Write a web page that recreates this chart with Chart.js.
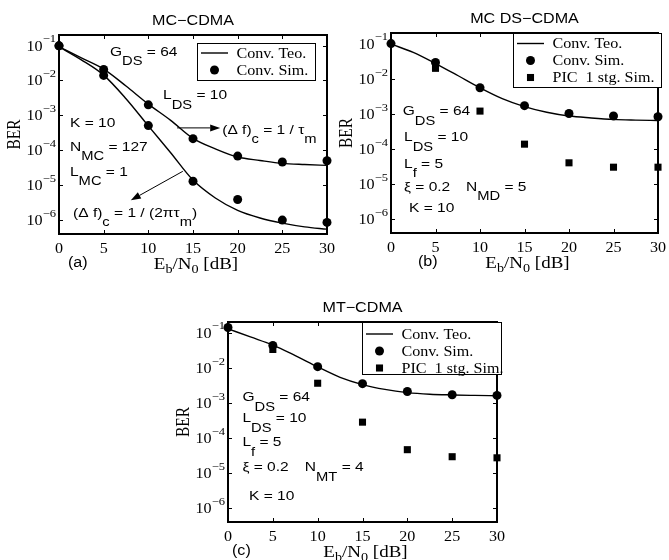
<!DOCTYPE html>
<html>
<head>
<meta charset="utf-8">
<title>BER vs Eb/N0</title>
<script src="https://cdn.jsdelivr.net/npm/chart.js@4.4.1/dist/chart.umd.min.js"></script>
<style>
  html, body { margin: 0; padding: 0; background: #fff; }
  #page { position: relative; width: 669px; height: 560px; }
  #page canvas { position: absolute; left: 0; top: 0; }
</style>
</head>
<body>
<div id="page">
  <canvas id="chartA" width="669" height="560"></canvas>
  <canvas id="chartB" width="669" height="560"></canvas>
  <canvas id="chartC" width="669" height="560"></canvas>
</div>
<script>
// Eb/N0 points of the simulations and of the analytic curves
const ebn0Sim = [0, 5, 10, 15, 20, 25, 30];
const ebn0Teo = [0, 2.5, 5, 7.5, 10, 12.5, 15, 17.5, 20, 22.5, 25, 27.5, 30];

const xTicks = [0, 5, 10, 15, 20, 25, 30];
const xTickLabels = ['0', '5', '10', '15', '20', '25', '30'];
const yTicks = [1e-6, 1e-5, 1e-4, 1e-3, 1e-2, 1e-1];
const yTickLabels = ['10^{\u22126}', '10^{\u22125}', '10^{\u22124}', '10^{\u22123}', '10^{\u22122}', '10^{\u22121}'];

// (a) MC-CDMA, (delta f)c = 1/tau_m and 1/(2 pi tau_m)
const teoMcWide = [0.092, 0.044, 0.021, 0.0069, 0.0021, 0.00072, 0.00022, 0.00011, 0.000064, 0.000051, 0.000042, 0.000039, 0.000037];
const simMcWide = [0.098, 0.0206, 0.002, 0.000215, 0.000068, 0.000046, 0.00005];
const teoMcNarrow = [0.092, 0.039, 0.0142, 0.003, 0.0005, 0.000085, 0.000014, 0.0000043, 0.0000019, 0.00000115, 0.00000082, 0.00000064, 0.00000055];
const simMcNarrow = [0.098, 0.0139, 0.00051, 0.000013, 0.0000039, 0.000001, 0.00000086];

// (b) MC DS-CDMA
const teoMd = [0.097, 0.056, 0.027, 0.0123, 0.0055, 0.0027, 0.0016, 0.0011, 0.00086, 0.00076, 0.00069, 0.00066, 0.00064];
const simMd = [0.1, 0.029, 0.0055, 0.0017, 0.00102, 0.00086, 0.00082];
const picMd = [null, 0.0197, 0.00119, 0.000136, 0.00004, 0.00003, 0.00003];

// (c) MT-CDMA
const teoMt = [0.128, 0.075, 0.044, 0.022, 0.0105, 0.0053, 0.0033, 0.0024, 0.00195, 0.00175, 0.00167, 0.00162, 0.00158];
const simMt = [0.139, 0.043, 0.0107, 0.0035, 0.0021, 0.00169, 0.00162];
const picMt = [null, 0.033, 0.0036, 0.00028, 0.000046, 0.000029, 0.000027];

const STRETCH = 1.15;
const SANS = '"Liberation Sans", Arial, Helvetica, sans-serif';
const SERIF = '"Liberation Serif", "Times New Roman", Times, serif';

function series(xs, ys) {
  return xs.map((x, i) => ({ x: x, y: ys[i] }));
}

function teoLine(label, ys) {
  return {
    label: label,
    data: series(ebn0Teo, ys),
    showLine: true,
    borderColor: '#000',
    borderWidth: 1.4,
    pointRadius: 0,
    fill: false,
    cubicInterpolationMode: 'monotone'
  };
}

function simPoints(label, ys, style) {
  return {
    label: label,
    data: series(ebn0Sim, ys),
    showLine: false,
    pointStyle: style,
    pointRadius: style === 'rect' ? 5 : 4.5,
    backgroundColor: '#000',
    borderColor: '#000',
    borderWidth: 0,
    clip: false
  };
}

// text with _{sub} and ^{sup} parts, stretched a bit sideways like the scan
function richText(ctx, str, x, y, size, family, align, opt) {
  opt = opt || {};
  const subScale = opt.subScale || 0.95, subShift = opt.subShift || 0.7;
  const supScale = opt.supScale || 0.78, supShift = opt.supShift || 0.58;
  const parts = [];
  const re = /_\{([^}]*)\}|\^\{([^}]*)\}|([^_^]+)/g;
  let m;
  while ((m = re.exec(str))) {
    if (m[1] !== undefined) parts.push({ t: m[1], s: size * subScale, dy: size * subShift });
    else if (m[2] !== undefined) parts.push({ t: m[2], s: size * supScale, dy: -size * supShift });
    else parts.push({ t: m[3], s: size, dy: 0 });
  }
  let w = 0;
  parts.forEach(p => {
    ctx.font = p.s + 'px ' + family;
    p.w = ctx.measureText(p.t).width;
    w += p.w;
  });
  let cx = align === 'center' ? -w / 2 : align === 'right' ? -w : 0;
  ctx.save();
  ctx.translate(x, y);
  ctx.scale(STRETCH, 1);
  ctx.textAlign = 'left';
  ctx.textBaseline = 'alphabetic';
  ctx.fillStyle = '#000';
  parts.forEach(p => {
    ctx.font = p.s + 'px ' + family;
    ctx.fillText(p.t, cx, p.dy);
    cx += p.w;
  });
  ctx.restore();
}

function drawArrow(ctx, x0, y0, x1, y1) {
  const ang = Math.atan2(y1 - y0, x1 - x0);
  const len = 10, half = 3.5;
  ctx.beginPath();
  ctx.moveTo(x0, y0);
  ctx.lineTo(x1 - Math.cos(ang) * len, y1 - Math.sin(ang) * len);
  ctx.stroke();
  ctx.beginPath();
  ctx.moveTo(x1, y1);
  ctx.lineTo(x1 - Math.cos(ang) * len - Math.sin(ang) * half, y1 - Math.sin(ang) * len + Math.cos(ang) * half);
  ctx.lineTo(x1 - Math.cos(ang) * len + Math.sin(ang) * half, y1 - Math.sin(ang) * len - Math.cos(ang) * half);
  ctx.closePath();
  ctx.fill();
}

function figurePlugin(fig) {
  return {
    id: 'figure',
    beforeDatasetsDraw(chart) {
      const ctx = chart.ctx, a = chart.chartArea;
      const xs = chart.scales.x, ys = chart.scales.y;
      ctx.save();
      ctx.strokeStyle = '#000';
      ctx.lineWidth = 1;
      ctx.beginPath();
      xs.ticks.forEach(t => {
        const px = Math.round(xs.getPixelForValue(t.value)) + 0.5;
        ctx.moveTo(px, a.bottom); ctx.lineTo(px, a.bottom - 4);
        ctx.moveTo(px, a.top); ctx.lineTo(px, a.top + 4);
      });
      ys.ticks.forEach(t => {
        const py = Math.round(ys.getPixelForValue(t.value)) + 0.5;
        ctx.moveTo(a.left, py); ctx.lineTo(a.left + 4, py);
        ctx.moveTo(a.right, py); ctx.lineTo(a.right - 4, py);
      });
      ctx.stroke();
      ctx.lineWidth = 2;
      ctx.strokeRect(a.left, a.top, a.right - a.left, a.bottom - a.top);
      ctx.restore();
    },
    afterDatasetsDraw(chart) {
      const ctx = chart.ctx, a = chart.chartArea;
      const xs = chart.scales.x, ys = chart.scales.y;
      const cx = (a.left + a.right) / 2;
      ctx.save();
      ctx.fillStyle = '#000';
      ctx.strokeStyle = '#000';

      // tick labels
      xTicks.forEach((v, i) => {
        richText(ctx, xTickLabels[i], xs.getPixelForValue(v), a.bottom + 19, 14, SERIF, 'center');
      });
      yTicks.forEach((v, i) => {
        richText(ctx, yTickLabels[i], a.left - 3, ys.getPixelForValue(v) + 5, 14, SERIF, 'right');
      });

      // titles and labels
      richText(ctx, fig.title, cx, a.top - 10, 14, SANS, 'center');
      richText(ctx, 'E_{b}/N_{0} [dB]', cx + 3, a.bottom + 34.5, 16.5, SERIF, 'center', { subScale: 0.75, subShift: 0.3 });
      richText(ctx, fig.tag.text, a.left + fig.tag.dx, a.bottom + 32.5, 14, SANS, 'left');
      ctx.save();
      ctx.translate(a.left - 44, (a.top + a.bottom) / 2);
      ctx.rotate(-Math.PI / 2);
      ctx.scale(1, STRETCH);
      ctx.font = '15.5px ' + SERIF;
      ctx.textAlign = 'center';
      ctx.textBaseline = 'middle';
      ctx.fillText('BER', 0, 0);
      ctx.restore();

      // notes placed in data coordinates
      fig.notes.forEach(n => {
        richText(ctx, n.text, xs.getPixelForValue(n.x), ys.getPixelForValue(n.y), 13.5, SANS, 'left');
      });
      ctx.lineWidth = 1;
      fig.arrows.forEach(r => {
        drawArrow(ctx, xs.getPixelForValue(r.x0), ys.getPixelForValue(r.y0),
          xs.getPixelForValue(r.x1), ys.getPixelForValue(r.y1));
      });

      // legend box
      const lg = fig.legend;
      const bx = Math.round(a.left + lg.x), by = Math.round(a.top + lg.y);
      ctx.fillStyle = '#fff';
      ctx.fillRect(bx, by, lg.w, lg.h);
      ctx.strokeStyle = '#000';
      ctx.lineWidth = 1;
      ctx.strokeRect(bx + 0.5, by + 0.5, lg.w, lg.h);
      ctx.fillStyle = '#000';
      chart.data.datasets.filter(d => d.label).forEach((d, i) => {
        const cy = by + lg.row0 + i * 17;
        if (d.showLine) {
          ctx.lineWidth = 1.4;
          ctx.beginPath();
          ctx.moveTo(bx + 4, cy);
          ctx.lineTo(bx + 31, cy);
          ctx.stroke();
        } else if (d.pointStyle === 'rect') {
          const s = d.pointRadius * Math.SQRT1_2;
          ctx.fillRect(bx + 17.5 - s, cy - s, 2 * s, 2 * s);
        } else {
          ctx.beginPath();
          ctx.arc(bx + 17.5, cy, d.pointRadius, 0, Math.PI * 2);
          ctx.fill();
        }
        richText(ctx, d.label, bx + 39.5, cy + 4.5, 14, SERIF, 'left');
      });
      ctx.restore();
    }
  };
}

function makeChart(id, box, datasets, fig) {
  return new Chart(document.getElementById(id), {
    type: 'scatter',
    data: { datasets: datasets },
    options: {
      responsive: false,
      animation: false,
      devicePixelRatio: 1,
      events: [],
      layout: {
        padding: { left: box.left, top: box.top, right: 669 - box.right, bottom: 560 - box.bottom }
      },
      plugins: { legend: { display: false }, tooltip: { enabled: false } },
      scales: {
        x: {
          type: 'linear', min: 0, max: 30,
          ticks: { display: false },
          grid: { display: false, drawTicks: false },
          border: { display: false },
          afterBuildTicks: s => { s.ticks = xTicks.map(v => ({ value: v })); },
          afterFit: s => { s.height = 0; }
        },
        y: {
          type: 'logarithmic', min: 4e-7, max: 0.2,
          ticks: { display: false },
          grid: { display: false, drawTicks: false },
          border: { display: false },
          afterBuildTicks: s => { s.ticks = yTicks.map(v => ({ value: v })); },
          afterFit: s => { s.width = 0; }
        }
      }
    },
    plugins: [figurePlugin(fig)]
  });
}

makeChart('chartA', { left: 59, top: 35, right: 327, bottom: 234 }, [
  simPoints('Conv. Sim.', simMcWide, 'circle'),
  simPoints('', simMcNarrow, 'circle'),
  teoLine('Conv. Teo.', teoMcWide),
  teoLine('', teoMcNarrow)
].reverse(), {
  title: 'MC\u2212CDMA',
  tag: { text: '(a)', dx: 9 },
  legend: { x: 138, y: 8, w: 118, h: 37, row0: 10 },
  notes: [
    { text: 'G_{DS} = 64', x: 5.7, y: 0.051 },
    { text: 'L_{DS} = 10', x: 11.65, y: 2.86e-3 },
    { text: 'K = 10', x: 1.23, y: 4.67e-4 },
    { text: 'N_{MC} = 127', x: 1.23, y: 9.5e-5 },
    { text: 'L_{MC} = 1', x: 1.23, y: 1.83e-5 },
    { text: '(\u0394 f)_{c} = 1 / \u03c4_{m}', x: 18.27, y: 3.0e-4 },
    { text: '(\u0394 f)_{c} = 1 / (2\u03c0\u03c4_{m})', x: 1.57, y: 1.25e-6 }
  ],
  arrows: [
    { x0: 13.22, y0: 4.37e-4, x1: 18.04, y1: 4.37e-4 },
    { x0: 13.86, y0: 2.5e-5, x1: 8.04, y1: 3.7e-6 }
  ]
});

makeChart('chartB', { left: 391, top: 33, right: 658, bottom: 233 }, [
  teoLine('Conv. Teo.', teoMd),
  simPoints('Conv. Sim.', simMd, 'circle'),
  simPoints('PIC  1 stg. Sim.', picMd, 'rect')
], {
  title: 'MC DS\u2212CDMA',
  tag: { text: '(b)', dx: 27 },
  legend: { x: 122, y: 0, w: 148, h: 54, row0: 10.5 },
  notes: [
    { text: 'G_{DS} = 64', x: 1.31, y: 9.1e-4 },
    { text: 'L_{DS} = 10', x: 1.46, y: 1.62e-4 },
    { text: 'L_{f} = 5', x: 1.46, y: 2.9e-5 },
    { text: '\u03be = 0.2', x: 1.46, y: 6.3e-6 },
    { text: 'N_{MD} = 5', x: 8.43, y: 6.3e-6 },
    { text: 'K = 10', x: 2.02, y: 1.55e-6 }
  ],
  arrows: []
});

makeChart('chartC', { left: 228, top: 322, right: 497, bottom: 522 }, [
  teoLine('Conv. Teo.', teoMt),
  simPoints('Conv. Sim.', simMt, 'circle'),
  simPoints('PIC  1 stg. Sim.', picMt, 'rect')
], {
  title: 'MT\u2212CDMA',
  tag: { text: '(c)', dx: 4 },
  legend: { x: 134, y: 0, w: 139, h: 52, row0: 12 },
  notes: [
    { text: 'G_{DS} = 64', x: 1.61, y: 1.11e-3 },
    { text: 'L_{DS} = 10', x: 1.61, y: 2.79e-4 },
    { text: 'L_{f} = 5', x: 1.61, y: 5.75e-5 },
    { text: '\u03be = 0.2', x: 1.61, y: 1.11e-5 },
    { text: 'N_{MT} = 4', x: 8.57, y: 1.11e-5 },
    { text: 'K = 10', x: 2.35, y: 1.73e-6 }
  ],
  arrows: []
});
</script>
</body>
</html>
